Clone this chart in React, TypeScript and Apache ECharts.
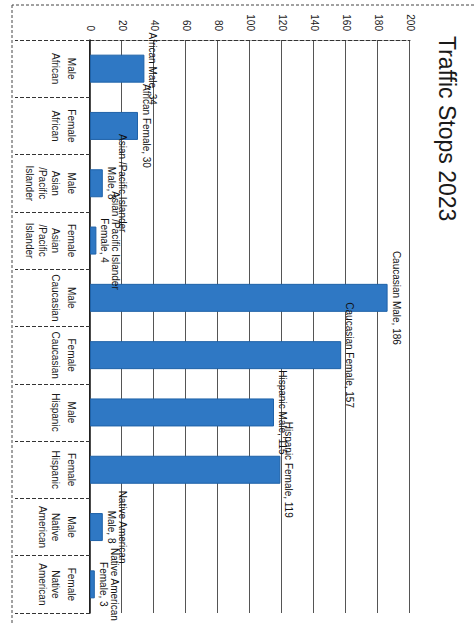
import React, { useEffect, useRef } from "react";
import * as echarts from "echarts";

const genders = ["Male", "Female", "Male", "Female", "Male", "Female", "Male", "Female", "Male", "Female"];
const races = [
  "African", "African",
  "Asian /Pacific Islander", "Asian /Pacific Islander",
  "Caucasian", "Caucasian",
  "Hispanic", "Hispanic",
  "Native American", "Native American",
];
const stops = [34, 30, 8, 4, 186, 157, 115, 119, 8, 3];
const valueTicks = { min: 0, max: 200, interval: 20 };

const FONT = "'Liberation Sans', Arial, sans-serif";

export default function App() {
  const ref = useRef<HTMLDivElement>(null);
  useEffect(() => {
    if (!ref.current) return;
    const chart = echarts.init(ref.current, null, { renderer: "svg" });
    const cats = genders.map((g, i) => `${g} ${races[i]}`);
    chart.setOption({
      animation: false,
      backgroundColor: "#ffffff",
      textStyle: { fontFamily: FONT },
      title: {
        text: "Traffic Stops 2023",
        left: 31,
        top: 11,
        textStyle: { fontFamily: FONT, fontSize: 23, fontWeight: "normal", color: "#1a1a1a" },
      },
      grid: { left: 40, right: 10, top: 64, bottom: 90, containLabel: false },
      xAxis: {
        type: "category",
        data: cats,
        axisLine: { show: true, lineStyle: { color: "#111", width: 1.5 } },
        axisTick: { show: true, interval: 0, length: 75, lineStyle: { color: "#333", type: "dashed" } },
        axisLabel: {
          interval: 0,
          margin: 10,
          color: "#1a1a1a",
          formatter: (_v: string, i: number) =>
            `{g|${genders[i]}}\n{r|${races[i].split(" ").join("\n")}}`,
          rich: {
            g: { fontSize: 10, lineHeight: 18, fontFamily: FONT, color: "#1a1a1a" },
            r: { fontSize: 10, lineHeight: 13, fontFamily: FONT, color: "#1a1a1a" },
          },
        },
      },
      yAxis: {
        type: "value",
        min: valueTicks.min,
        max: valueTicks.max,
        interval: valueTicks.interval,
        axisLine: { show: true, lineStyle: { color: "#333", type: "dashed" } },
        axisTick: { show: false },
        axisLabel: { fontSize: 10, margin: 9, color: "#1a1a1a", fontFamily: FONT },
        splitLine: { show: true, lineStyle: { color: "#555", width: 1 } },
      },
      series: [
        {
          type: "bar",
          data: stops,
          barWidth: 28,
          itemStyle: { color: "#2f78c4", borderColor: "#1f62a8", borderWidth: 1 },
          label: {
            show: true,
            position: "top",
            distance: 3,
            fontSize: 10,
            lineHeight: 11,
            color: "#111",
            fontFamily: FONT,
            formatter: (p: any) => {
              const r = races[p.dataIndex];
              const sep = r.length > 10 ? "\n" : " ";
              return `${r}${sep}${genders[p.dataIndex]}, ${p.value}`;
            },
          },
        },
      ],
      graphic: [
        {
          type: "line",
          shape: { x1: 5, y1: -10, x2: 5, y2: 462 },
          style: { stroke: "#444", lineWidth: 1, lineDash: [3, 2] },
        },
        {
          type: "line",
          shape: { x1: 5, y1: 462, x2: 640, y2: 462 },
          style: { stroke: "#444", lineWidth: 1, lineDash: [3, 2] },
        },
      ],
    });
    return () => chart.dispose();
  }, []);

  return (
    <div
      style={{
        position: "fixed",
        left: 0,
        top: 0,
        width: 474,
        height: 623,
        overflow: "hidden",
        background: "#fff",
      }}
    >
      <div
        ref={ref}
        style={{
          position: "absolute",
          left: 0,
          top: 0,
          width: 623,
          height: 474,
          transformOrigin: "0 0",
          transform: "translate(474px, 0px) rotate(90deg)",
        }}
      />
    </div>
  );
}
